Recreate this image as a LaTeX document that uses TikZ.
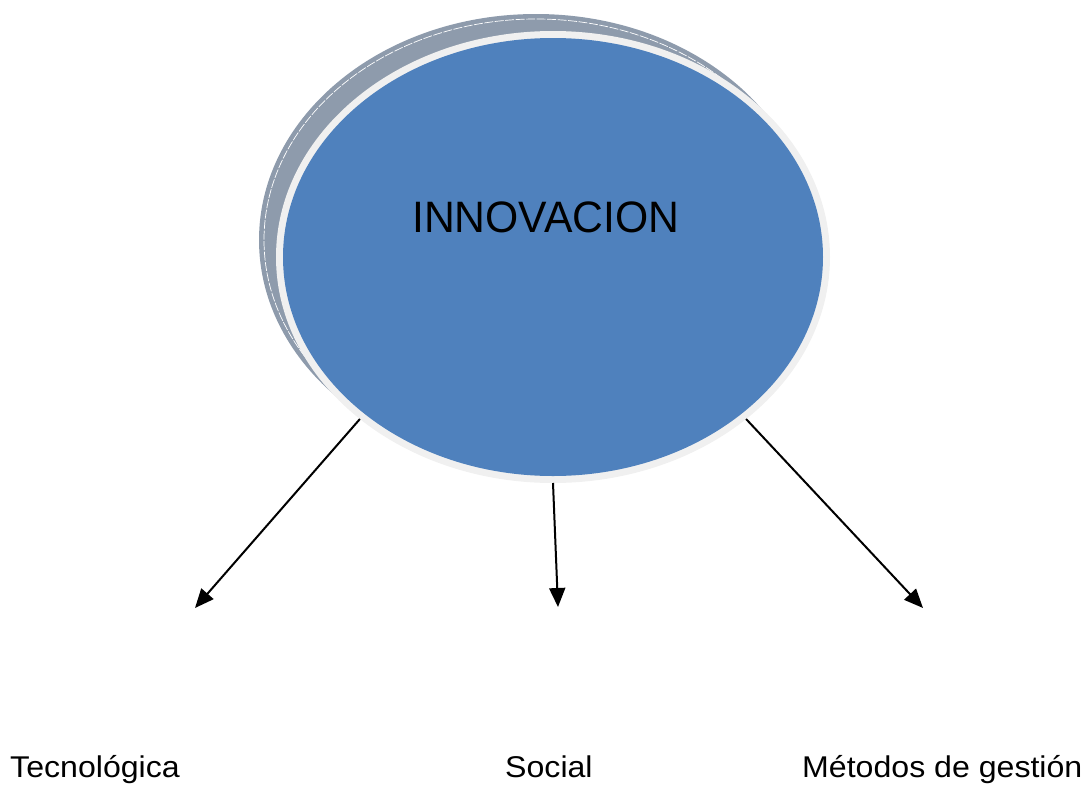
\documentclass[tikz,border=0pt]{standalone}
\usepackage{fontspec}
\usepackage{tikz}
\usetikzlibrary{shapes.geometric,arrows.meta,positioning}
\setmainfont{Liberation Sans}
\newfontfamily\titleSans[FakeStretch=0.97]{Liberation Sans}
\newfontfamily\itemSans[FakeStretch=1.07]{Liberation Sans}

\definecolor{innovblue}{HTML}{4F81BD}
\definecolor{rimgray}{HTML}{F0F0F0}
\definecolor{backgray}{HTML}{8E9BAC}

\tikzset{
	oval/.style={ellipse, inner sep=0, outer sep=0},
	itemtext/.style={anchor=base west, inner sep=0, font=\itemSans\fontsize{30}{34}\selectfont},
	branch/.style={-{Triangle[length=19pt,width=16pt]}, line width=2pt}
}

\begin{document}
\begin{tikzpicture}[x=1pt,y=-1pt]
				\useasboundingbox (0,0) rectangle (1088,785);

				% Shadow ellipse behind, shifted up and left
				\node[oval, fill=backgray, minimum width=554pt, minimum height=452pt] (back) at (536,240) {};
				\draw[white, line width=0.7pt, dash pattern=on 9pt off 1.5pt] (back.center) ellipse [x radius=272, y radius=221];

				% Main ellipse with light rim
				\node[oval, fill=rimgray, minimum width=554pt, minimum height=452pt] (rim) at (553,257) {};
				\node[oval, fill=innovblue, minimum width=540pt, minimum height=438pt] (innov) at (rim.center) {};
				\node[anchor=base west, inner sep=0, font=\titleSans\fontsize{44}{50}\selectfont] (title) at (412,232) {INNOVACION};

				% Arrow ends
				\coordinate (tecTip) at (195,608);
				\coordinate (socTip) at (558,607);
				\coordinate (gesTip) at (923,608);

				\draw[branch] (rim.220) -- (tecTip);
				\draw[branch] (rim.south) -- (socTip);
				\draw[branch] (rim.320) -- (gesTip);

				% Labels
				\node[itemtext] (tec) at (10,777) {Tecnológica};
				\node[itemtext] (soc) at (505,777) {Social};
				\node[itemtext] (ges) at (802,777) {Métodos de gestión};
			\end{tikzpicture}
\end{document}
